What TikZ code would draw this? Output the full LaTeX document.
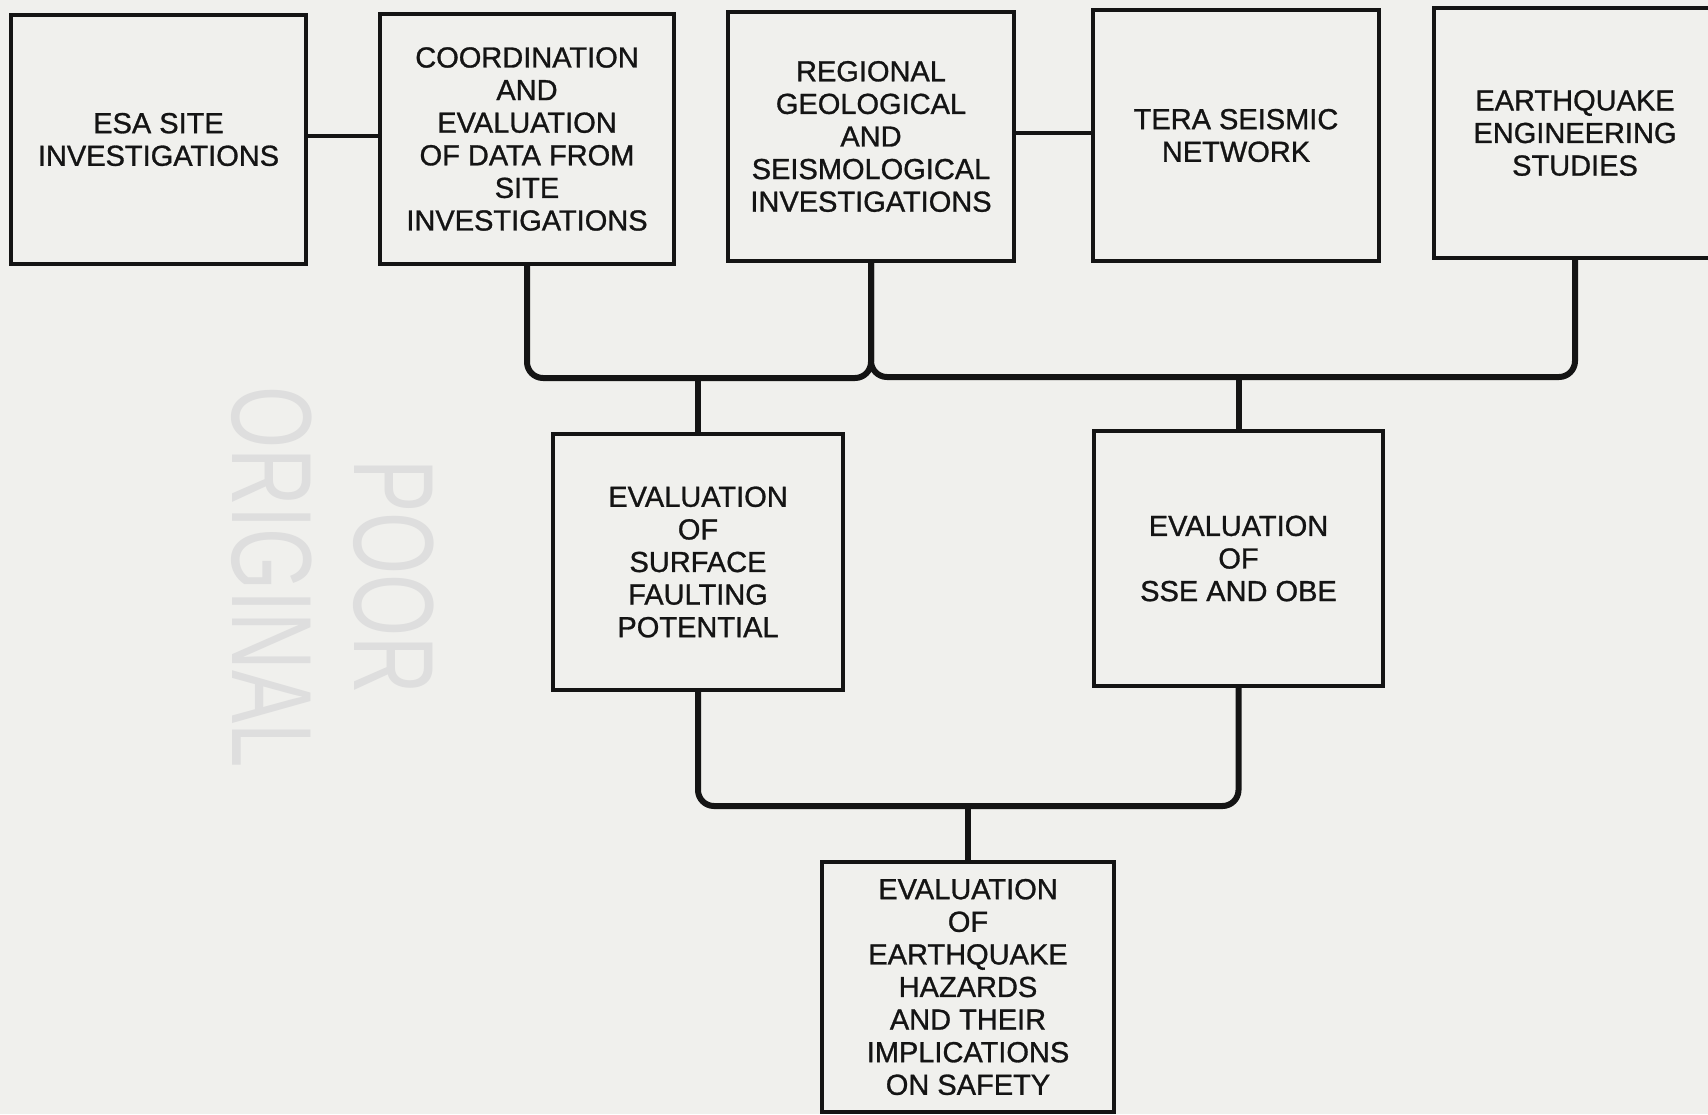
\documentclass[tikz,border=0pt]{standalone}
\usepackage{fontspec}
\setmainfont{Liberation Sans}
\newfontfamily\boxfont{Liberation Sans}[FakeBold=1.0]
\definecolor{bgc}{RGB}{240,240,237}
\definecolor{ink}{RGB}{20,20,20}
\begin{document}
\begin{tikzpicture}[x=0.5pt,y=-0.5pt,
  box/.style={draw=ink, line width=1.8pt, inner sep=0pt, align=center,
    font=\boxfont\fontsize{14.5}{16.3}\selectfont, text=ink},
  conn/.style={line width=3pt, draw=ink, rounded corners=8pt},
  link/.style={line width=1.6pt, draw=ink},
  drop/.style={line width=3pt, draw=ink},
  stamp/.style={rotate=-90, inner sep=0pt, align=center, text=black!13,
    font=\fontsize{57}{61}\selectfont}]
\fill[bgc] (0,0) rectangle (1708,1114);
\useasboundingbox (0,0) rectangle (1708,1114);

\node[stamp] (wm) at (333,577) {\scalebox{0.7}[1]{POOR}\\\scalebox{0.7}[1]{ORIGINAL}};

\node[box, minimum width=147.5pt, minimum height=124.5pt] (b1) at (158.5,139.5) {ESA SITE\\INVESTIGATIONS};
\node[box, minimum width=147pt, minimum height=125pt] (b2) at (527,139) {COORDINATION\\AND\\EVALUATION\\OF DATA FROM\\SITE\\INVESTIGATIONS};
\node[box, minimum width=143pt, minimum height=124.5pt] (b3) at (871,136.5) {REGIONAL\\GEOLOGICAL\\AND\\SEISMOLOGICAL\\INVESTIGATIONS};
\node[box, minimum width=143pt, minimum height=125.5pt] (b4) at (1236,135.5) {TERA SEISMIC\\NETWORK};
\node[box, minimum width=141pt, minimum height=125pt] (b5) at (1575,133) {EARTHQUAKE\\ENGINEERING\\STUDIES};
\node[box, minimum width=145pt, minimum height=128pt] (b6) at (698,562) {EVALUATION\\OF\\SURFACE\\FAULTING\\POTENTIAL};
\node[box, minimum width=144.5pt, minimum height=127.5pt] (b7) at (1238.5,558.5) {EVALUATION\\OF\\SSE AND OBE};
\node[box, minimum width=146pt, minimum height=125pt] (b8) at (968,987) {EVALUATION\\OF\\EARTHQUAKE\\HAZARDS\\AND THEIR\\IMPLICATIONS\\ON SAFETY};

% thin links between top boxes
\draw[link] (b1.east |- 0,136) -- (b2.west |- 0,136);
\draw[link] (b3.east |- 0,133) -- (b4.west |- 0,133);

% upper brackets
\coordinate (j1) at (b6.north |- 0,378);
\coordinate (j2) at (b7.north |- 0,377);
\draw[conn] (b2.south) |- (b3.south |- 0,378) -- (b3.south);
\draw[conn] (b3.south) |- (b5.south |- 0,377) -- (b5.south);
\draw[drop] (j1) -- (b6.north);
\draw[drop] (j2) -- (b7.north);

% lower bracket
\coordinate (j3) at (b8.north |- 0,806);
\draw[conn] (b6.south) |- (b7.south |- 0,806) -- (b7.south);
\draw[drop] (j3) -- (b8.north);
\end{tikzpicture}
\end{document}
